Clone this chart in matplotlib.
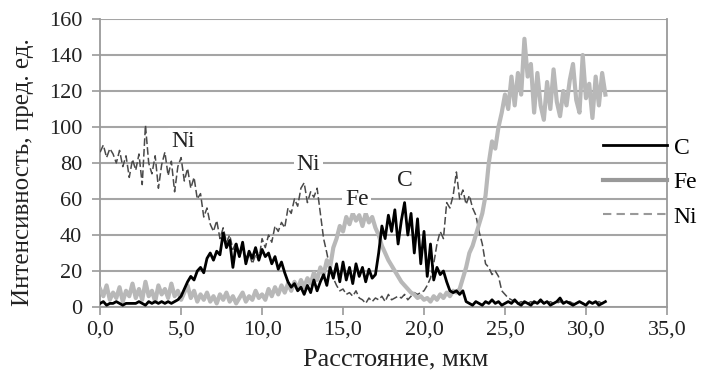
import numpy as np
import matplotlib
matplotlib.use("Agg")
import matplotlib.pyplot as plt
from matplotlib.lines import Line2D
from matplotlib.ticker import FuncFormatter

plt.rcParams['font.family'] = ['Liberation Serif', 'DejaVu Serif']

# Line scan profiles, one reading every 0.2 um starting at 0
step = 0.2

c_vals = [
    2, 3, 1, 2, 2, 3, 2, 1, 2, 2,
    2, 2, 3, 2, 1, 3, 2, 3, 2, 3,
    2, 3, 2, 3, 4, 6, 10, 14, 17, 15,
    20, 22, 19, 27, 30, 26, 31, 29, 41, 33,
    37, 22, 35, 28, 36, 24, 31, 27, 33, 26,
    32, 28, 30, 24, 28, 21, 25, 19, 14, 11,
    13, 9, 11, 7, 12, 8, 15, 9, 14, 18,
    12, 22, 16, 24, 14, 25, 15, 22, 13, 24,
    17, 22, 14, 21, 16, 18, 30, 45, 38, 51,
    42, 54, 35, 48, 58, 40, 52, 30, 49, 24,
    42, 17, 35, 15, 22, 18, 20, 14, 9, 8,
    9, 7, 9, 3, 2, 1, 3, 2, 1, 3,
    2, 4, 2, 3, 1, 2, 3, 2, 4, 2,
    1, 3, 2, 1, 3, 2, 4, 2, 3, 1,
    2, 3, 5, 2, 3, 2, 1, 2, 3, 2,
    1, 3, 2, 3, 1, 2, 3,
]

fe_vals = [
    10, 6, 12, 4, 8, 5, 11, 3, 9, 6,
    13, 5, 10, 4, 14, 6, 9, 3, 12, 7,
    10, 5, 13, 6, 9, 4, 8, 12, 5, 9,
    3, 7, 4, 8, 3, 6, 2, 7, 4, 8,
    3, 6, 2, 5, 8, 3, 6, 4, 9, 5,
    7, 4, 10, 6, 11, 7, 12, 8, 13, 9,
    14, 10, 15, 11, 16, 13, 19, 15, 22, 18,
    26, 22, 33, 38, 45, 42, 50, 46, 52, 48,
    51, 45, 52, 47, 50, 44, 40, 34, 30, 26,
    23, 20, 17, 14, 12, 10, 8, 7, 5, 6,
    4, 5, 3, 6, 4, 7, 5, 8, 6, 9,
    8, 10, 16, 22, 30, 34, 40, 46, 52, 62,
    80, 92, 88, 100, 108, 118, 110, 128, 112, 130,
    118, 149, 128, 135, 108, 130, 112, 104, 125, 110,
    132, 114, 106, 120, 112, 126, 135, 115, 108, 140,
    116, 124, 105, 128, 112, 130, 118,
]

ni_vals = [
    86, 90, 83, 88, 85, 80, 87, 78, 84, 72,
    82, 76, 85, 68, 101, 80, 74, 84, 66, 79,
    86, 73, 81, 64, 78, 83, 70, 77, 66, 72,
    60, 63, 50, 55, 46, 42, 48, 38, 44, 36,
    40, 32, 36, 28, 33, 27, 30, 24, 29, 26,
    38, 33, 40, 36, 45, 42, 47, 44, 55, 52,
    60, 56, 66, 69, 58, 64, 61, 66, 52, 38,
    30, 21, 16, 12, 9, 10, 7, 8, 6, 9,
    5, 4, 2, 5, 3, 5, 4, 6, 3, 7,
    4, 5, 6, 5, 7, 4, 6, 8, 7, 8,
    9, 12, 16, 24, 35, 42, 38, 58, 55, 62,
    75, 60, 65, 57, 62, 55, 51, 42, 35, 24,
    22, 18, 20, 17, 9, 7, 5, 4, 3, 2,
    3, 2, 2, 3, 2, 2, 3, 2, 2, 3,
    2, 2, 3, 2, 2, 3, 2, 2, 3, 2,
    2, 3, 2, 2, 3, 2, 2,
]

distance = np.arange(len(c_vals)) * step

x_ticks = [0, 5, 10, 15, 20, 25, 30, 35]
y_ticks = [0, 20, 40, 60, 80, 100, 120, 140, 160]

fig = plt.figure(figsize=(7.05, 3.76), dpi=100)
ax = fig.add_axes([0.142, 0.1835, 0.804, 0.766])

ax.plot(distance, ni_vals, color='#4a4a4a', lw=1.1, dashes=(5, 2), zorder=3)
ax.plot(distance, fe_vals, color='#b8b8b8', lw=3.0, zorder=4)
ax.plot(distance, c_vals, color='black', lw=2.0, zorder=5)

ax.set_xlim(0, 35)
ax.set_ylim(0, 160)
ax.set_xticks(x_ticks)
ax.set_yticks(y_ticks)
ax.xaxis.set_major_formatter(FuncFormatter(lambda v, p: f"{v:.1f}".replace('.', ',')))
ax.yaxis.grid(True, color='#a5a5a5', lw=1.5)
ax.set_axisbelow(True)

for side in ['left', 'bottom', 'right']:
    ax.spines[side].set_color('#9a9a9a')
    ax.spines[side].set_linewidth(1.3)
ax.spines['top'].set_visible(False)

ax.tick_params(axis='both', direction='out', length=6, width=1.2, color='#9a9a9a',
               labelsize=16, labelcolor='#222222')
ax.tick_params(axis='y', pad=7)
ax.tick_params(axis='x', pad=4)

ax.set_xlabel('Расстояние, мкм', fontsize=19, color='#222222')
ax.set_ylabel('Интенсивность, пред. ед.', fontsize=18, color='#222222')
ax.xaxis.set_label_coords(0.522, -0.145)
ax.yaxis.set_label_coords(-0.116, 0.47)

# element labels next to the peaks
box = dict(facecolor='white', edgecolor='none', pad=2)
for txt, tx, ty in [('Ni', 5.1, 92), ('Ni', 12.85, 79), ('Fe', 15.85, 59.5), ('C', 18.8, 70)]:
    ax.text(tx, ty, txt, fontsize=17, ha='center', va='center', color='#222222',
            bbox=box, zorder=6)

handles = [
    Line2D([], [], color='black', lw=2.0),
    Line2D([], [], color='#999999', lw=3.0),
    Line2D([], [], color='#999999', lw=1.5, dashes=(4, 2.5)),
]
ax.legend(handles, ['C', 'Fe', 'Ni'], loc='upper left', bbox_to_anchor=(0.887, 0.59),
          frameon=False, fontsize=17, handlelength=2.7, handletextpad=0.3,
          labelspacing=0.55, borderpad=0, borderaxespad=0)

fig.savefig('out.png', dpi=100)
